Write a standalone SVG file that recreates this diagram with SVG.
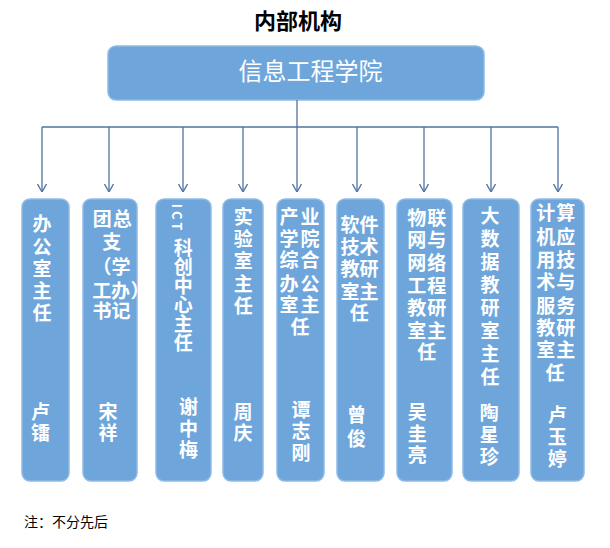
<svg xmlns="http://www.w3.org/2000/svg" width="610" height="548" viewBox="0 0 610 548">
<style>
.box{fill:#6ea6dc;stroke:#8fbbe6;stroke-width:1.5}
.t{font-family:"Noto Sans CJK SC","Noto Sans",sans-serif;fill:#ffffff;font-weight:700;font-size:19px;text-anchor:middle}
.v{font-family:"Noto Sans CJK SC","Noto Sans",sans-serif;fill:#ffffff;font-weight:700;font-size:19px;text-anchor:start;writing-mode:vertical-rl}
.conn{fill:none;stroke:#4f73a0;stroke-width:1.3}
.title{font-family:"Noto Sans CJK SC",sans-serif;font-weight:700;font-size:22px;fill:#000;text-anchor:middle}
.root{font-family:"Noto Sans CJK SC",sans-serif;font-size:24px;fill:#fff;text-anchor:middle}
.note{font-family:"Noto Sans CJK SC",sans-serif;font-size:14px;fill:#000}
</style>
<defs>
<marker id="arr" markerUnits="userSpaceOnUse" viewBox="0 0 8 10" refX="8" refY="5" markerWidth="8" markerHeight="10" orient="auto">
<path d="M0,0.5 L8,5 L0,9.5" fill="none" stroke="#4f73a0" stroke-width="1.3"/>
</marker>
</defs>
<rect width="610" height="548" fill="#fff"/>
<g id="title"><text class="title" x="298" y="29">内部机构</text></g>
<g id="node-root">
<rect class="box" x="108" y="46" width="376" height="54" rx="8"/>
<text class="root" x="310.5" y="80">信息工程学院</text>
</g>
<g id="connectors">
<path class="conn" d="M297,100 V127 M42,127 H558"/>
<path class="conn" marker-end="url(#arr)" d="M42,127 V192"/>
<path class="conn" marker-end="url(#arr)" d="M109,127 V192"/>
<path class="conn" marker-end="url(#arr)" d="M183,127 V192"/>
<path class="conn" marker-end="url(#arr)" d="M243,127 V192"/>
<path class="conn" marker-end="url(#arr)" d="M297,127 V192"/>
<path class="conn" marker-end="url(#arr)" d="M357,127 V192"/>
<path class="conn" marker-end="url(#arr)" d="M424,127 V192"/>
<path class="conn" marker-end="url(#arr)" d="M491,127 V192"/>
<path class="conn" marker-end="url(#arr)" d="M558,127 V192"/>
</g>
<g id="node-1">
<rect class="box" x="22" y="199" width="47" height="282" rx="8"/>
<text class="v" x="42" y="214.5" style="letter-spacing:3.3px">办公室主任</text>
<text class="v" x="40.5" y="402.2" style="letter-spacing:1.6px">卢镭</text>
</g>
<g id="node-2">
<rect class="box" x="83" y="199" width="54" height="282" rx="8"/>
<text class="t" x="102.3 122.3 111.7 102 121 101.7 120.5 140 102 121" y="225.5 225.5 249 274 274 298 298 298 318 318">团总支（学工办）书记</text>
<text class="v" x="108" y="402.2" style="letter-spacing:1.6px">宋祥</text>
</g>
<g id="node-3">
<rect class="box" x="156" y="199" width="55" height="282" rx="8"/>
<text class="t" style="font-size:13px;letter-spacing:3px" transform="translate(177.5,218.5) rotate(90)" dominant-baseline="central">ICT</text>
<text class="v" x="183.3" y="237.8">科创中心主任</text>
<text class="v" x="188.5" y="397.2" style="letter-spacing:2.65px">谢中梅</text>
</g>
<g id="node-4">
<rect class="box" x="223" y="199" width="40" height="282" rx="8"/>
<text class="v" x="243.3" y="207.2" style="letter-spacing:3.25px">实验室主任</text>
<text class="v" x="243" y="402.2" style="letter-spacing:1.8px">周庆</text>
</g>
<g id="node-5">
<rect class="box" x="277" y="199" width="47" height="282" rx="8"/>
<text class="t" x="289 310 289 310 289 310 289 310 289 310 300" y="224 224 245.5 245.5 267 267 290.5 290.5 312 312 334">产业学院综合办公室主任</text>
<text class="v" x="301" y="400.5" style="letter-spacing:2.15px">谭志刚</text>
</g>
<g id="node-6">
<rect class="box" x="337" y="199" width="47" height="282" rx="8"/>
<text class="t" x="350 369 350 369 350 369 350 369 359.3" y="232 232 253.7 253.7 276 276 298.7 298.7 320.3">软件技术教研室主任</text>
<text class="v" x="356.5" y="405.5" style="letter-spacing:4.3px">曾俊</text>
</g>
<g id="node-7">
<rect class="box" x="397" y="199" width="55" height="282" rx="8"/>
<text class="t" x="416.7 436.7 416.7 436.7 416.7 436.7 416.7 436.7 416.7 436.7 416.7 436.7 426.7" y="225.3 225.3 247 247 270.3 270.3 292.7 292.7 315.3 315.3 337.7 337.7 358.7">物联网与网络工程教研室主任</text>
<text class="v" x="417.3" y="402.2" style="letter-spacing:2.65px">吴圭亮</text>
</g>
<g id="node-8">
<rect class="box" x="463" y="199" width="56" height="282" rx="8"/>
<text class="v" x="490" y="206.2" style="letter-spacing:4px">大数据教研室主任</text>
<text class="v" x="489.3" y="402.8" style="letter-spacing:3.2px">陶星珍</text>
</g>
<g id="node-9">
<rect class="box" x="531" y="199" width="53" height="282" rx="8"/>
<text class="t" x="545.7 565.7 545.7 565.7 545.7 565.7 545.7 565.7 545.7 565.7 545.7 565.7 545.7 565.7 555" y="220.3 220.3 243.7 243.7 267 267 289.3 289.3 312.7 312.7 335.3 335.3 357 357 380.3">计算机应用技术与服务教研室主任</text>
<text class="v" x="557.3" y="405.5" style="letter-spacing:2.65px">卢玉婷</text>
</g>
<g id="note"><text class="note" x="24" y="527">注：不分先后</text></g>
</svg>
